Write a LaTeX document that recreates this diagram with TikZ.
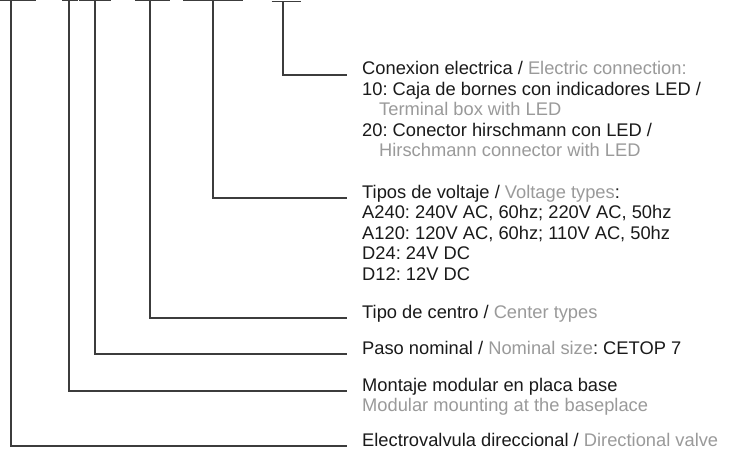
\documentclass[tikz,border=0pt]{standalone}
\usepackage{fontspec}
\setmainfont{Liberation Sans}
\definecolor{inkc}{HTML}{1A1A1A}
\definecolor{grayc}{HTML}{9A9A9A}
\definecolor{linec}{HTML}{3C3C3C}
\newcommand\entxt[1]{\textcolor{grayc}{#1}}
\frenchspacing
\begin{document}
\begin{tikzpicture}[x=1pt,y=-1pt,
  lbl/.style={anchor=base west, inner sep=0pt, text=inkc, font=\fontsize{18.3}{20.5}\selectfont\frenchspacing},
  conn/.style={draw=linec, line width=1.1pt},
  bar/.style={draw=linec, line width=1.2pt}]
\useasboundingbox[fill=white] (0,0) rectangle (736,451);
% top bars
\draw[bar] (0,0.6) -- (36,0.6);
\draw[bar] (62,0.6) -- (78,0.6);
\draw[bar] (79,0.6) -- (111,0.6);
\draw[bar] (135,0.6) -- (170,0.6);
\draw[bar] (183,0.6) -- (243,0.6);
\draw[bar] (271.5,1.3) -- (301,1.3);
% connector start points
\coordinate (t1) at (11,0.6);
\coordinate (t2) at (69,0.6);
\coordinate (t3) at (95,0.6);
\coordinate (t4) at (150,0.6);
\coordinate (t5) at (213,0.6);
\coordinate (t6) at (283,1.3);
% connector end points
\coordinate (e1) at (347,446);
\coordinate (e2) at (347,391);
\coordinate (e3) at (347,354);
\coordinate (e4) at (347,318);
\coordinate (e5) at (347,198);
\coordinate (e6) at (347,75);
\foreach \i in {1,...,6} \draw[conn] (t\i) |- (e\i);
% labels
\node[lbl] (n6a) at (362,74.5) {Conexion electrica / \entxt{Electric connection:}};
\node[lbl] (n6b) at (362,95) {10: Caja de bornes con indicadores LED /};
\node[lbl] (n6c) at (379,115.5) {\entxt{Terminal box with LED}};
\node[lbl] (n6d) at (362,136) {20: Conector hirschmann con LED /};
\node[lbl] (n6e) at (379,156.5) {\entxt{Hirschmann connector with LED}};
\node[lbl] (n5a) at (362,198) {Tipos de voltaje / \entxt{Voltage types}:};
\node[lbl] (n5b) at (362,218.5) {A240: 240V AC, 60hz; 220V AC, 50hz};
\node[lbl] (n5c) at (362,239) {A120: 120V AC, 60hz; 110V AC, 50hz};
\node[lbl] (n5d) at (362,259.5) {D24: 24V DC};
\node[lbl] (n5e) at (362,280) {D12: 12V DC};
\node[lbl] (n4) at (362,318) {Tipo de centro / \entxt{Center types}};
\node[lbl] (n3) at (362,354) {Paso nominal / \entxt{Nominal size}: CETOP 7};
\node[lbl] (n2a) at (362,391) {Montaje modular en placa base};
\node[lbl] (n2b) at (362,411.5) {\entxt{Modular mounting at the baseplace}};
\node[lbl] (n1) at (362,446) {Electrovalvula direccional / \entxt{Directional valve}};
\end{tikzpicture}
\end{document}
